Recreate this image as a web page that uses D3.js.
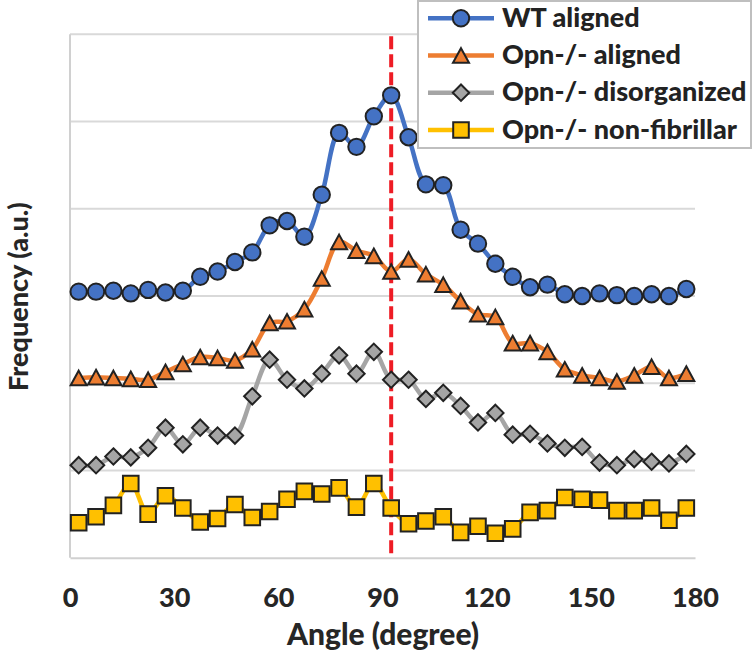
<!DOCTYPE html>
<html><head><meta charset="utf-8">
<script src="https://cdn.jsdelivr.net/npm/d3@7"></script>
<style>body{margin:0;background:#fff} svg{display:block}</style>
</head><body>
<svg id="chart" width="754" height="662"></svg>
<script>
// ---------- data ----------
const angles = [2.5, 7.5, 12.5, 17.5, 22.5, 27.5, 32.5, 37.5, 42.5, 47.5, 52.5, 57.5,
  62.5, 67.5, 72.5, 77.5, 82.5, 87.5, 92.5, 97.5, 102.5, 107.5, 112.5, 117.5,
  122.5, 127.5, 132.5, 137.5, 142.5, 147.5, 152.5, 157.5, 162.5, 167.5, 172.5, 177.5];
const wtAligned = [3.05, 3.05, 3.06, 3.03, 3.07, 3.04, 3.06, 3.22, 3.28, 3.39, 3.50, 3.81,
  3.86, 3.68, 4.16, 4.87, 4.71, 5.06, 5.30, 4.82, 4.28, 4.27, 3.76, 3.60,
  3.37, 3.22, 3.10, 3.13, 3.02, 3.00, 3.03, 3.01, 3.00, 3.02, 3.00, 3.08];
const opnAligned = [2.06, 2.07, 2.06, 2.05, 2.04, 2.13, 2.22, 2.30, 2.29, 2.26, 2.39, 2.69,
  2.71, 2.85, 3.20, 3.62, 3.52, 3.46, 3.28, 3.42, 3.25, 3.13, 2.94, 2.79,
  2.76, 2.46, 2.46, 2.36, 2.16, 2.09, 2.06, 2.02, 2.09, 2.19, 2.06, 2.11];
const opnDisorganized = [1.06, 1.06, 1.16, 1.15, 1.26, 1.49, 1.30, 1.49, 1.40, 1.40, 1.85, 2.27,
  2.04, 1.94, 2.11, 2.32, 2.11, 2.36, 2.04, 2.04, 1.82, 1.89, 1.74, 1.55,
  1.66, 1.41, 1.42, 1.31, 1.26, 1.27, 1.09, 1.06, 1.13, 1.10, 1.08, 1.19];
const opnNonFibrillar = [0.40, 0.47, 0.60, 0.85, 0.50, 0.71, 0.57, 0.41, 0.45, 0.61, 0.46, 0.53,
  0.67, 0.76, 0.73, 0.80, 0.58, 0.85, 0.57, 0.39, 0.42, 0.47, 0.29, 0.36,
  0.28, 0.33, 0.52, 0.54, 0.69, 0.67, 0.66, 0.54, 0.54, 0.57, 0.43, 0.57];
const seriesNames = ["WT aligned", "Opn-/- aligned", "Opn-/- disorganized", "Opn-/- non-fibrillar"];
const seriesColors = ["#4472C4", "#ED7D31", "#A5A5A5", "#FFC000"];
const seriesMarkers = ["circle", "triangle", "diamond", "square"];
const xTicks = [0, 30, 60, 90, 120, 150, 180];
const yGrid = [0, 1, 2, 3, 4, 5, 6];
const referenceAngle = 92.5;
const xTitle = "Angle (degree)";
const yTitle = "Frequency (a.u.)";

// ---------- drawing ----------
const FONT = "Lato, 'Open Sans', sans-serif";
const W = 900;
const svg = d3.select("#chart");
const x = d3.scaleLinear().domain([0, 180]).range([70, 695]);
const y = d3.scaleLinear().domain([0, 6]).range([557.7, 34.3]);

// gridlines
svg.append("g").selectAll("line").data(yGrid.filter(v => v > 0)).join("line")
  .attr("x1", x(0)).attr("x2", x(180))
  .attr("y1", d => y(d)).attr("y2", d => y(d))
  .attr("stroke", "#d9d9d9").attr("stroke-width", 2);
// left axis line
svg.append("line").attr("x1", x(0)).attr("x2", x(0)).attr("y1", y(6)).attr("y2", y(0))
  .attr("stroke", "#d0d0d0").attr("stroke-width", 2);
// bottom axis
const xAxis = svg.append("g").attr("transform", `translate(0,${y(0)})`)
  .call(d3.axisBottom(x).tickValues(xTicks).tickSize(0).tickPadding(30).tickFormat(d3.format("d")));
xAxis.select(".domain").attr("stroke", "#d0d0d0").attr("stroke-width", 2);
xAxis.selectAll("text").attr("font-family", FONT).attr("font-weight", W)
  .attr("font-size", 27).attr("fill", "#262626");

// reference line
svg.append("line").attr("x1", x(referenceAngle)).attr("x2", x(referenceAngle))
  .attr("y1", y(6) + 2).attr("y2", y(0))
  .attr("stroke", "#ee1c25").attr("stroke-width", 4).attr("stroke-dasharray", "13,5");

// marker path generator
function markerPath(type) {
  if (type === "circle") return d3.symbol(d3.symbolCircle, Math.PI * 8.2 * 8.2)();
  if (type === "triangle") return "M0,-7.3L8,7.3L-8,7.3Z";
  if (type === "diamond") return "M0,-8.2L8.2,0L0,8.2L-8.2,0Z";
  return "M-7.8,-7.8H7.8V7.8H-7.8Z";
}

const allSeries = [wtAligned, opnAligned, opnDisorganized, opnNonFibrillar];
const line = d3.line().x((d, i) => x(angles[i])).y(d => y(d)).curve(d3.curveCatmullRom.alpha(0.5));

allSeries.forEach((vals, k) => {
  const g = svg.append("g");
  g.append("path").attr("d", line(vals)).attr("fill", "none")
    .attr("stroke", seriesColors[k]).attr("stroke-width", 4.5).attr("stroke-linejoin", "round");
  g.selectAll("path.m").data(vals).join("path").attr("class", "m")
    .attr("d", markerPath(seriesMarkers[k]))
    .attr("transform", (d, i) => `translate(${x(angles[i])},${y(d)})`)
    .attr("fill", seriesColors[k]).attr("stroke", "#222").attr("stroke-width", 2);
});

// axis titles
svg.append("text").attr("x", (x(0) + x(180)) / 2 + 0.5).attr("y", 645)
  .attr("text-anchor", "middle").attr("font-family", FONT).attr("font-weight", W)
  .attr("font-size", 30).attr("fill", "#262626").text(xTitle);
svg.append("text").attr("transform", "translate(27.5,296.7) rotate(-90)")
  .attr("text-anchor", "middle").attr("font-family", FONT).attr("font-weight", W)
  .attr("font-size", 27).attr("fill", "#262626").text(yTitle);

// legend
const leg = svg.append("g");
leg.append("rect").attr("x", 418).attr("y", 1).attr("width", 333).attr("height", 147)
  .attr("fill", "#fff").attr("stroke", "#bfbfbf").attr("stroke-width", 2);
const rowY = [18.3, 55.5, 92.7, 130];
seriesNames.forEach((name, k) => {
  const ry = rowY[k];
  leg.append("line").attr("x1", 428).attr("x2", 494).attr("y1", ry).attr("y2", ry)
    .attr("stroke", seriesColors[k]).attr("stroke-width", 4.5);
  leg.append("path").attr("d", markerPath(seriesMarkers[k]))
    .attr("transform", `translate(461,${ry})`)
    .attr("fill", seriesColors[k]).attr("stroke", "#222").attr("stroke-width", 2);
  leg.append("text").attr("x", 502).attr("y", ry + 8.6)
    .attr("font-family", FONT).attr("font-weight", W).attr("font-size", 27)
    .attr("fill", "#222").text(name);
});
</script>
</body></html>
